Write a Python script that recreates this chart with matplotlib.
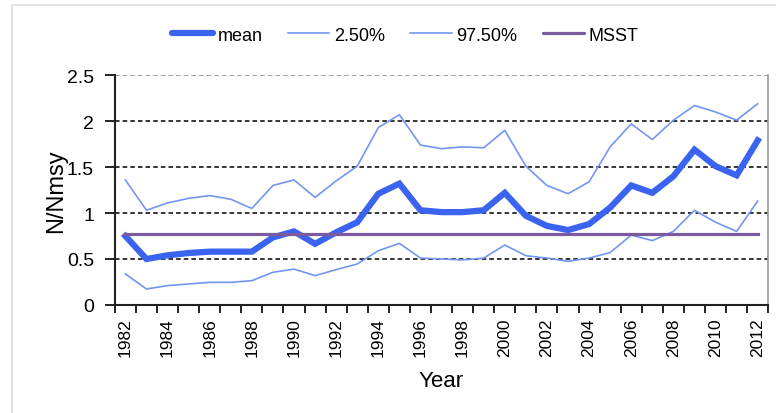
import matplotlib
matplotlib.use("Agg")
import matplotlib.pyplot as plt
from matplotlib.lines import Line2D
import numpy as np

plt.rcParams['font.family'] = ['Liberation Sans', 'DejaVu Sans']

years = list(range(1982, 2013))
mean = [0.75, 0.50, 0.54, 0.565, 0.58, 0.58, 0.58, 0.735, 0.80, 0.665,
        0.79, 0.90, 1.21, 1.32, 1.03, 1.01, 1.01, 1.03, 1.22, 0.97,
        0.86, 0.815, 0.88, 1.06, 1.30, 1.22, 1.40, 1.69, 1.51, 1.41, 1.79]
lower = [0.337, 0.174, 0.21, 0.228, 0.246, 0.246, 0.264, 0.355, 0.39, 0.319,
         0.384, 0.446, 0.59, 0.67, 0.51, 0.50, 0.49, 0.51, 0.652, 0.536,
         0.51, 0.475, 0.51, 0.57, 0.76, 0.70, 0.80, 1.03, 0.90, 0.80, 1.13]
upper = [1.36, 1.03, 1.11, 1.16, 1.19, 1.15, 1.05, 1.30, 1.36, 1.17,
         1.35, 1.51, 1.93, 2.07, 1.74, 1.70, 1.72, 1.71, 1.90, 1.51,
         1.30, 1.21, 1.34, 1.72, 1.97, 1.80, 2.01, 2.17, 2.10, 2.01, 2.19]
msst = 0.77
yticks = [0, 0.5, 1, 1.5, 2, 2.5]

c_mean = '#3a63f0'
c_ci = '#7396f2'
c_msst = '#7b5a9e'

fig = plt.figure(figsize=(7.76, 4.14), dpi=100)
ax = fig.add_axes([0.148, 0.261, 0.842, 0.555])

x = np.arange(len(years))
ax.plot(x, lower, color=c_ci, lw=1.2, zorder=3)
ax.plot(x, upper, color=c_ci, lw=1.2, zorder=3)
ax.plot(x, mean, color=c_mean, lw=4.5, zorder=4, solid_joinstyle='miter')
ax.plot(x, [msst] * len(x), color=c_msst, lw=2.3, zorder=5)

ax.set_xlim(-0.5, len(years) - 0.5)
ax.set_ylim(0, 2.5)
ax.set_yticks(yticks)
ax.set_yticklabels(['0', '0.5', '1', '1.5', '2', '2.5'], fontsize=14)
for v in yticks[1:-1]:
    ax.axhline(v, color='black', lw=1.1, ls=(0, (3, 2)), zorder=1)
ax.axhline(2.5, color='#888888', lw=1.1, ls=(0, (3, 2)), zorder=1)

# category boundaries carry the ticks, labels sit on every other year
ax.set_xticks(np.arange(-0.5, len(years), 1.0))
ax.set_xticklabels([])
ax.set_xticks(x[::2], minor=True)
ax.set_xticklabels([str(y) for y in years[::2]], minor=True,
                   rotation=90, fontsize=12.5)
ax.tick_params(axis='x', which='major', length=6, width=1.2, direction='out')
ax.tick_params(axis='x', which='minor', length=0, pad=9)
ax.tick_params(axis='y', length=7, width=1.2, direction='out', pad=8)

for s in ['left', 'bottom']:
    ax.spines[s].set_linewidth(1.5)
    ax.spines[s].set_color('#222222')
ax.spines['top'].set_visible(False)
ax.spines['right'].set_color('#999999')
ax.spines['right'].set_linewidth(1.2)

ax.set_xlabel('Year', fontsize=16, labelpad=10)
ax.set_ylabel('N/Nmsy', fontsize=17, labelpad=0)

handles = [Line2D([], [], color=c_mean, lw=4.5, solid_capstyle='round'),
           Line2D([], [], color=c_ci, lw=1.2),
           Line2D([], [], color=c_ci, lw=1.2),
           Line2D([], [], color=c_msst, lw=2.3, solid_capstyle='round')]
fig.legend(handles, ['mean', '2.50%', '97.50%', 'MSST'], loc='center',
           bbox_to_anchor=(0.522, 0.913), ncol=4, frameon=False, fontsize=13,
           handlelength=2.3, handletextpad=0.25, columnspacing=1.4)

# light frame around the chart area
fig.add_artist(Line2D([12 / 776, 12 / 776], [0, 1 - 6 / 414],
                      transform=fig.transFigure, color='#dddddd', lw=1.2))
fig.add_artist(Line2D([12 / 776, 1], [1 - 6 / 414, 1 - 6 / 414],
                      transform=fig.transFigure, color='#dddddd', lw=1.2))

fig.savefig('out.png', dpi=100)
